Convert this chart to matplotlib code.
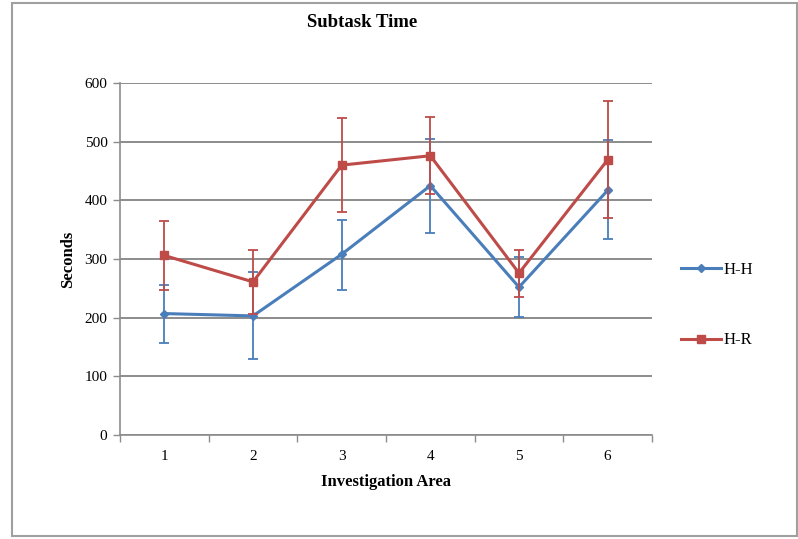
import matplotlib
matplotlib.use("Agg")
import matplotlib.pyplot as plt
from matplotlib.patches import Rectangle
from matplotlib.lines import Line2D

areas = [1, 2, 3, 4, 5, 6]
hh_mean = [207, 203, 308, 425, 252, 417]
hh_upper = [256, 278, 366, 504, 303, 502]
hh_lower = [157, 130, 247, 345, 201, 334]
hr_mean = [306, 261, 460, 476, 276, 469]
hr_upper = [364, 315, 540, 542, 315, 570]
hr_lower = [248, 206, 380, 411, 236, 370]

blue = "#4A7EBB"
red = "#BE4B48"
grid_c = "#8C8C8C"

plt.rcParams['font.family'] = ['Liberation Serif', 'DejaVu Serif']

fig = plt.figure(figsize=(7.98, 5.39), dpi=100)
W, H = 798, 539
ax = fig.add_axes([120 / W, 1 - 435 / H, (652 - 120) / W, (435 - 83) / H])

fig.patches.append(Rectangle((12 / W, 3 / H), (797 - 12) / W, (536 - 3) / H,
                             transform=fig.transFigure, fill=False,
                             edgecolor="#A0A0A0", linewidth=1.5))

hh_err = [[m - l for m, l in zip(hh_mean, hh_lower)], [u - m for m, u in zip(hh_mean, hh_upper)]]
hr_err = [[m - l for m, l in zip(hr_mean, hr_lower)], [u - m for m, u in zip(hr_mean, hr_upper)]]

ax.errorbar(areas, hh_mean, yerr=hh_err, color=blue, ecolor=blue, linewidth=2.2,
            elinewidth=1.3, capsize=3.5, capthick=1.3, marker='D', markersize=4, label='H-H', zorder=3)
ax.errorbar(areas, hr_mean, yerr=hr_err, color=red, ecolor=red, linewidth=2.2,
            elinewidth=1.3, capsize=3.5, capthick=1.3, marker='s', markersize=6, label='H-R', zorder=4)

ax.set_xlim(0.5, 6.5)
ax.set_ylim(0, 600)
ax.set_yticks(range(0, 601, 100))
ax.yaxis.grid(True, color=grid_c, linewidth=1.4)
ax.set_axisbelow(True)
ax.set_xticks(areas)
ax.set_xticks([0.5 + i for i in range(7)], minor=True)
ax.tick_params(axis='x', which='major', length=0, pad=10.5, labelsize=11)
ax.tick_params(axis='x', which='minor', length=5, color=grid_c, width=1)
ax.tick_params(axis='y', which='major', length=5, color=grid_c, width=1, labelsize=11, pad=4)
for s in ['top', 'right']:
    ax.spines[s].set_visible(False)
for s in ['left', 'bottom']:
    ax.spines[s].set_color(grid_c)
    ax.spines[s].set_linewidth(1.2)

ax.set_xlabel('Investigation Area', fontsize=12, fontweight='bold', labelpad=8)
ax.set_ylabel('Seconds', fontsize=12, fontweight='bold', labelpad=6.5)
fig.text(362 / W, 1 - 22.5 / H, 'Subtask Time', ha='center', va='center', fontsize=13.5, fontweight='bold')

h1 = Line2D([], [], color=blue, linewidth=2.2, marker='D', markersize=4)
h2 = Line2D([], [], color=red, linewidth=2.2, marker='s', markersize=6)
leg = fig.legend([h1, h2], ['H-H', 'H-R'], loc='center left', bbox_to_anchor=(666 / W, 1 - 305 / H),
                 frameon=False, fontsize=12, handlelength=2.4, handletextpad=0.15, labelspacing=3.3)

fig.savefig('out.png', dpi=100)
